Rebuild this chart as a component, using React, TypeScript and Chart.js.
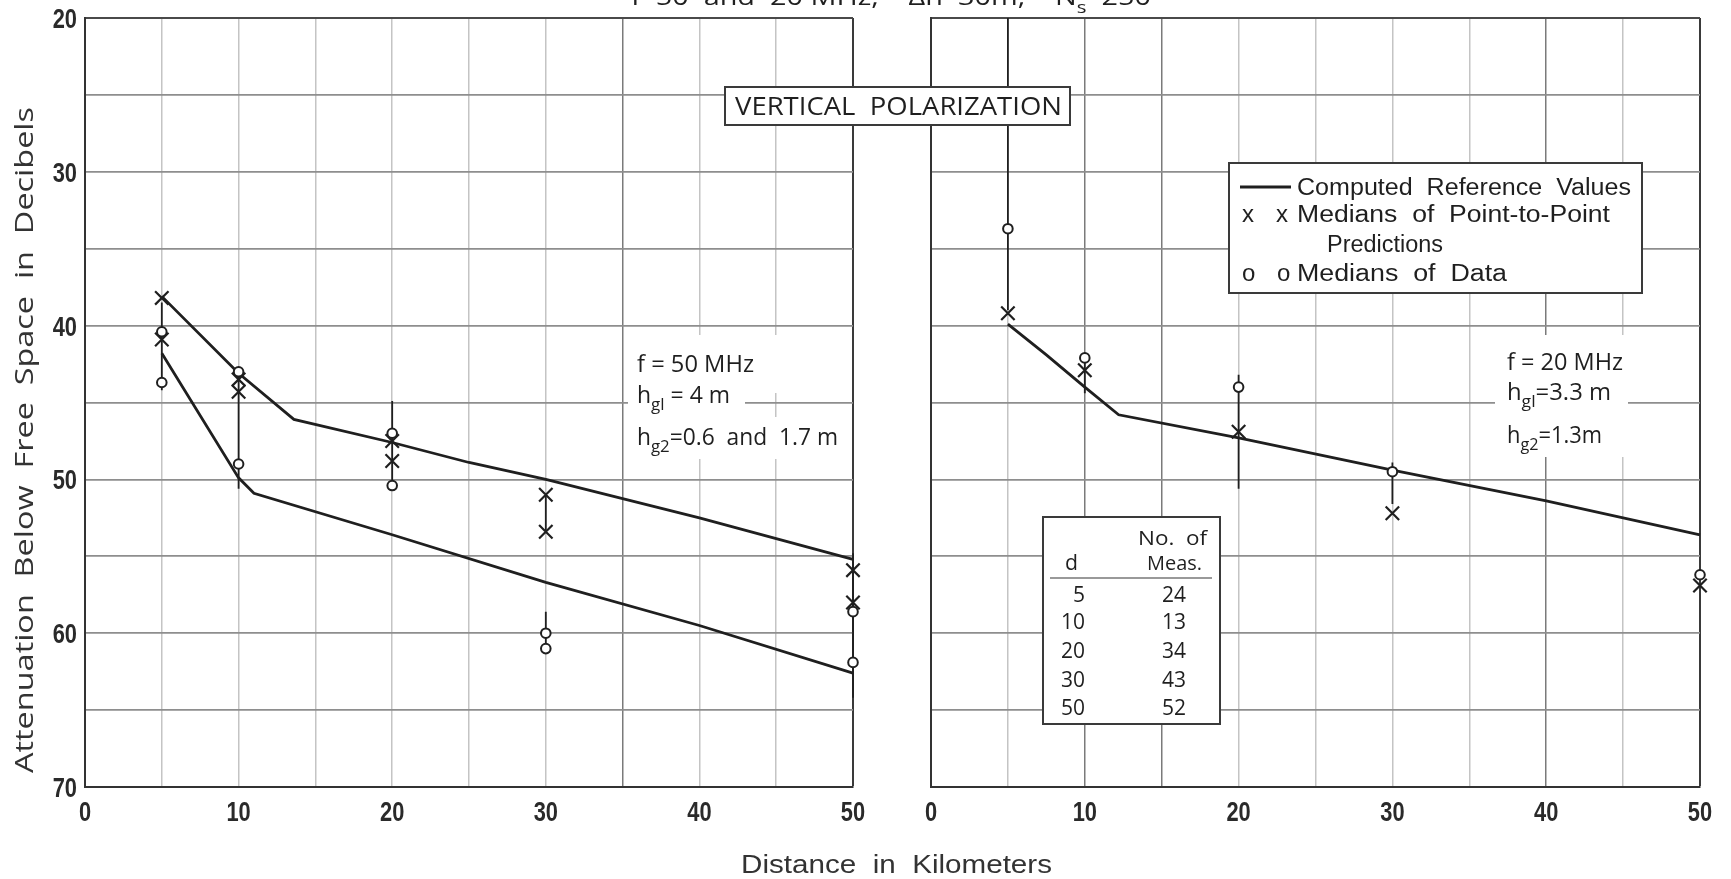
import React, { useEffect, useRef } from 'react';
import { Chart, registerables } from 'chart.js';

Chart.register(...registerables);

const W = 1731;
const H = 879;

// ---------- Left panel: f = 50 MHz ----------
const leftUpperDist = [5, 10, 13.6, 20, 25, 30, 40, 50];
const leftUpperAtten = [38.1, 43.1, 46.1, 47.6, 48.9, 50.0, 52.5, 55.2];
const leftLowerDist = [5, 10, 11, 20, 30, 40, 50];
const leftLowerAtten = [41.8, 49.9, 50.9, 53.6, 56.7, 59.5, 62.6];
const leftMarkDist = [5, 10, 20, 30, 50];
const leftPredA = [38.2, 43.5, 47.5, 51.0, 55.9];
const leftPredB = [40.9, 44.3, 48.8, 53.4, 58.0];
const leftDataA = [40.4, 43.0, 47.0, 60.0, 58.6];
const leftDataB = [43.7, 49.0, 50.4, 61.0, 61.9];
const leftBarDist = [5, 10, 20, 30, 30, 50];
const leftBarTop = [38.5, 42.9, 44.9, 51.0, 58.6, 54.8];
const leftBarBottom = [44.2, 50.6, 50.6, 53.4, 61.3, 64.2];

// ---------- Right panel: f = 20 MHz ----------
const rightCurveDist = [5, 7.5, 10, 12.2, 20, 30, 40, 50];
const rightCurveAtten = [39.9, 41.9, 44.0, 45.8, 47.3, 49.4, 51.4, 53.6];
const rightMarkDist = [5, 10, 20, 30, 50];
const rightPred = [39.2, 42.9, 46.9, 52.2, 56.9];
const rightData = [33.7, 42.1, 44.0, 49.5, 56.2];
const rightBarDist = [5, 10, 20, 30];
const rightBarTop = [20, 42.0, 43.2, 48.9];
const rightBarBottom = [39.0, 44.4, 50.6, 51.6];

// ---------- Ticks / table ----------
const xTickLabels = [0, 10, 20, 30, 40, 50];
const yTickLabels = [20, 30, 40, 50, 60, 70];
const tableDist = ['5', '10', '20', '30', '50'];
const tableMeas = ['24', '13', '34', '43', '52'];

const INK = '#1f1f1f';
const GEO = '"Open Sans", "DejaVu Sans", sans-serif';
const NARROW = '"Liberation Sans", Arial, sans-serif';

type Pt = { x: number; y: number | null };

function pts(xs: number[], ys: number[]): Pt[] {
  return xs.map((x, i) => ({ x, y: ys[i] }));
}
function barPts(xs: number[], top: number[], bottom: number[]): Pt[] {
  const out: Pt[] = [];
  xs.forEach((x, i) => {
    out.push({ x, y: top[i] }, { x, y: bottom[i] }, { x, y: null });
  });
  return out;
}

function curve(xs: number[], ys: number[]) {
  return { data: pts(xs, ys), showLine: true, borderColor: INK, borderWidth: 2.8, pointRadius: 0, order: 3, clip: false };
}
function bars(xs: number[], top: number[], bottom: number[]) {
  return { data: barPts(xs, top, bottom), showLine: true, spanGaps: false, borderColor: INK, borderWidth: 1.8, pointRadius: 0, order: 2, clip: false };
}
function crosses(xs: number[], ys: number[]) {
  return { data: pts(xs, ys), showLine: false, pointStyle: 'crossRot', pointRadius: 9.5, borderColor: INK, borderWidth: 2.2, order: 1, clip: false };
}
function circles(xs: number[], ys: number[]) {
  return { data: pts(xs, ys), showLine: false, pointStyle: 'circle', pointRadius: 4.8, backgroundColor: '#fff', borderColor: INK, borderWidth: 2, order: 0, clip: false };
}

function fitText(ctx: CanvasRenderingContext2D, text: string, x: number, y: number, width: number, font: string, color: string, align: 'left' | 'center' | 'right' = 'left') {
  ctx.save();
  ctx.font = font;
  ctx.fillStyle = color;
  ctx.textBaseline = 'alphabetic';
  ctx.textAlign = 'left';
  const w = ctx.measureText(text).width || 1;
  const sx = width / w;
  let x0 = x;
  if (align === 'center') x0 = x - width / 2;
  else if (align === 'right') x0 = x - width;
  ctx.translate(x0, y);
  ctx.scale(sx, 1);
  ctx.fillText(text, 0, 0);
  ctx.restore();
}

type Part = { t: string; sub?: boolean };
function richText(ctx: CanvasRenderingContext2D, parts: Part[], x: number, y: number, size: number, width: number, family: string, color: string) {
  ctx.save();
  const fN = `${size}px ${family}`;
  const fS = `${Math.round(size * 0.72)}px ${family}`;
  let total = 0;
  parts.forEach((p) => {
    ctx.font = p.sub ? fS : fN;
    total += ctx.measureText(p.t).width;
  });
  const sx = width / (total || 1);
  ctx.translate(x, y);
  ctx.scale(sx, 1);
  ctx.fillStyle = color;
  ctx.textBaseline = 'alphabetic';
  ctx.textAlign = 'left';
  let cx = 0;
  parts.forEach((p) => {
    ctx.font = p.sub ? fS : fN;
    ctx.fillText(p.t, cx, p.sub ? size * 0.32 : 0);
    cx += ctx.measureText(p.t).width;
  });
  ctx.restore();
}

function condensed(ctx: CanvasRenderingContext2D, text: string, x: number, y: number, sx: number, align: CanvasTextAlign) {
  ctx.save();
  ctx.translate(x, y);
  ctx.scale(sx, 1);
  ctx.textAlign = align;
  ctx.fillText(text, 0, 0);
  ctx.restore();
}

function drawTicks(chart: any, withY: boolean) {
  const ctx: CanvasRenderingContext2D = chart.ctx;
  const xs = chart.scales.x;
  const ys = chart.scales.y;
  ctx.save();
  ctx.font = `bold 28px ${NARROW}`;
  ctx.fillStyle = '#2a2a2a';
  ctx.textBaseline = 'alphabetic';
  xTickLabels.forEach((v) => condensed(ctx, String(v), xs.getPixelForValue(v), 821, 0.78, 'center'));
  if (withY) {
    yTickLabels.forEach((v) => condensed(ctx, String(v), 77, ys.getPixelForValue(v) + 10, 0.78, 'right'));
  }
  ctx.restore();
}

function whiteRect(ctx: CanvasRenderingContext2D, x: number, y: number, w: number, h: number) {
  ctx.fillStyle = '#fff';
  ctx.fillRect(x, y, w, h);
}
function framedBox(ctx: CanvasRenderingContext2D, x: number, y: number, w: number, h: number) {
  whiteRect(ctx, x, y, w, h);
  ctx.strokeStyle = '#3a3a3a';
  ctx.lineWidth = 2;
  ctx.strokeRect(x, y, w, h);
}

function drawOverlays(ctx: CanvasRenderingContext2D) {
  ctx.save();
  // heading (cut off at the top edge in the original)
  richText(ctx, [{ t: 'f  50  and  20 MHz,    Δh  30m,    N' }, { t: 's', sub: true }, { t: '  250' }], 631, 5, 24, 520, GEO, INK);

  // VERTICAL POLARIZATION box
  framedBox(ctx, 725, 87, 345, 38);
  fitText(ctx, 'VERTICAL  POLARIZATION', 735, 115, 327, `25px ${GEO}`, INK);

  // left panel parameters
  whiteRect(ctx, 628, 335, 220, 58);
  whiteRect(ctx, 628, 393, 117, 24);
  whiteRect(ctx, 628, 417, 220, 42);
  fitText(ctx, 'f = 50 MHz', 637, 372, 117, `23px ${GEO}`, INK);
  richText(ctx, [{ t: 'h' }, { t: 'gl', sub: true }, { t: ' = 4 m' }], 637, 403, 23, 93, GEO, INK);
  richText(ctx, [{ t: 'h' }, { t: 'g2', sub: true }, { t: '=0.6  and  1.7 m' }], 637, 445, 23, 201, GEO, INK);

  // right panel parameters
  whiteRect(ctx, 1495, 335, 133, 122);
  fitText(ctx, 'f = 20 MHz', 1507, 370, 116, `23px ${GEO}`, INK);
  richText(ctx, [{ t: 'h' }, { t: 'gl', sub: true }, { t: '=3.3 m' }], 1507, 400, 23, 104, GEO, INK);
  richText(ctx, [{ t: 'h' }, { t: 'g2', sub: true }, { t: '=1.3m' }], 1507, 443, 23, 95, GEO, INK);

  // legend
  framedBox(ctx, 1229, 163, 413, 130);
  ctx.strokeStyle = INK;
  ctx.lineWidth = 3;
  ctx.beginPath();
  ctx.moveTo(1240, 187);
  ctx.lineTo(1291, 187);
  ctx.stroke();
  fitText(ctx, 'Computed  Reference  Values', 1297, 195, 334, `23px ${NARROW}`, INK);
  ctx.font = `24px ${NARROW}`;
  ctx.fillStyle = INK;
  ctx.textAlign = 'left';
  ctx.fillText('x', 1242, 222);
  ctx.fillText('x', 1276, 222);
  fitText(ctx, 'Medians  of  Point-to-Point', 1297, 222, 313, `23px ${NARROW}`, INK);
  fitText(ctx, 'Predictions', 1327, 252, 116, `23px ${NARROW}`, INK);
  ctx.font = `24px ${NARROW}`;
  ctx.fillStyle = INK;
  ctx.fillText('o', 1242, 281);
  ctx.fillText('o', 1277, 281);
  fitText(ctx, 'Medians  of  Data', 1297, 281, 210, `23px ${NARROW}`, INK);

  // table of measurement counts
  framedBox(ctx, 1043, 517, 177, 207);
  fitText(ctx, 'No.  of', 1138, 545, 69, `20px ${GEO}`, INK);
  fitText(ctx, 'd', 1065, 570, 13, `22px ${GEO}`, INK);
  fitText(ctx, 'Meas.', 1147, 570, 55, `20px ${GEO}`, INK);
  ctx.strokeStyle = '#777';
  ctx.lineWidth = 1.5;
  ctx.beginPath();
  ctx.moveTo(1050, 578);
  ctx.lineTo(1212, 578);
  ctx.stroke();
  const rowBase = [602, 629, 658, 687, 715];
  ctx.font = `21px ${GEO}`;
  ctx.fillStyle = INK;
  tableDist.forEach((d, i) => {
    ctx.textAlign = 'right';
    ctx.fillText(d, 1085, rowBase[i]);
    ctx.textAlign = 'center';
    ctx.fillText(tableMeas[i], 1174, rowBase[i]);
  });

  // axis titles
  ctx.save();
  ctx.translate(33, 440);
  ctx.rotate(-Math.PI / 2);
  fitText(ctx, 'Attenuation  Below  Free  Space  in  Decibels', 0, 0, 666, `25px ${GEO}`, '#333', 'center');
  ctx.restore();
  fitText(ctx, 'Distance  in  Kilometers', 741, 873, 311, `26px ${NARROW}`, '#333');
  ctx.restore();
}

function gridX(darkVals: number[]) {
  return {
    drawTicks: false,
    color: (c: any) => {
      const v = c.tick ? c.tick.value : -1;
      if (v === 50) return '#3a3a3a';
      if (darkVals.indexOf(v) >= 0) return '#7a7a7a';
      return '#c4c4c4';
    },
    lineWidth: (c: any) => (c.tick && c.tick.value === 50 ? 2 : 1.5),
  };
}
const gridY = {
  drawTicks: false,
  color: (c: any) => {
    const v = c.tick ? c.tick.value : -1;
    if (v === 20 || v === 70) return '#4a4a4a';
    return '#8e8e8e';
  },
  lineWidth: (c: any) => (c.tick && (c.tick.value === 20 || c.tick.value === 70) ? 2 : 1.8),
};

function makeConfig(datasets: any[], pad: any, darkVals: number[], afterDraw: (chart: any) => void): any {
  return {
    type: 'scatter',
    data: { datasets },
    options: {
      animation: false,
      responsive: false,
      events: [],
      layout: { padding: pad },
      plugins: { legend: { display: false }, tooltip: { enabled: false }, title: { display: false } },
      scales: {
        x: {
          type: 'linear',
          min: 0,
          max: 50,
          ticks: { stepSize: 5, display: false },
          grid: gridX(darkVals),
          border: { display: true, color: '#333', width: 2 },
          afterFit: (s: any) => {
            s.height = 0;
          },
        },
        y: {
          type: 'linear',
          reverse: true,
          min: 20,
          max: 70,
          ticks: { stepSize: 5, display: false },
          grid: gridY,
          border: { display: true, color: '#333', width: 2 },
          afterFit: (s: any) => {
            s.width = 0;
          },
        },
      },
    },
    plugins: [{ id: 'extras', afterDraw }],
  };
}

export default function App() {
  const leftRef = useRef<HTMLCanvasElement>(null);
  const rightRef = useRef<HTMLCanvasElement>(null);

  useEffect(() => {
    const leftSets = [
      curve(leftUpperDist, leftUpperAtten),
      curve(leftLowerDist, leftLowerAtten),
      bars(leftBarDist, leftBarTop, leftBarBottom),
      crosses(leftMarkDist, leftPredA),
      crosses(leftMarkDist, leftPredB),
      circles(leftMarkDist, leftDataA),
      circles(leftMarkDist, leftDataB),
    ];
    const rightSets = [
      curve(rightCurveDist, rightCurveAtten),
      bars(rightBarDist, rightBarTop, rightBarBottom),
      crosses(rightMarkDist, rightPred),
      circles(rightMarkDist, rightData),
    ];
    const left = new Chart(
      leftRef.current as HTMLCanvasElement,
      makeConfig(leftSets, { left: 85, right: W - 853, top: 18, bottom: H - 787 }, [35], (c) => drawTicks(c, true))
    );
    const right = new Chart(
      rightRef.current as HTMLCanvasElement,
      makeConfig(rightSets, { left: 931, right: W - 1700, top: 18, bottom: H - 787 }, [10, 15, 40], (c) => {
        drawTicks(c, false);
        drawOverlays(c.ctx);
      })
    );
    return () => {
      left.destroy();
      right.destroy();
    };
  }, []);

  return (
    <div style={{ position: 'absolute', left: 0, top: 0, width: W, height: H, background: '#fff', overflow: 'hidden' }}>
      <canvas ref={leftRef} width={W} height={H} style={{ position: 'absolute', left: 0, top: 0 }} />
      <canvas ref={rightRef} width={W} height={H} style={{ position: 'absolute', left: 0, top: 0 }} />
    </div>
  );
}
